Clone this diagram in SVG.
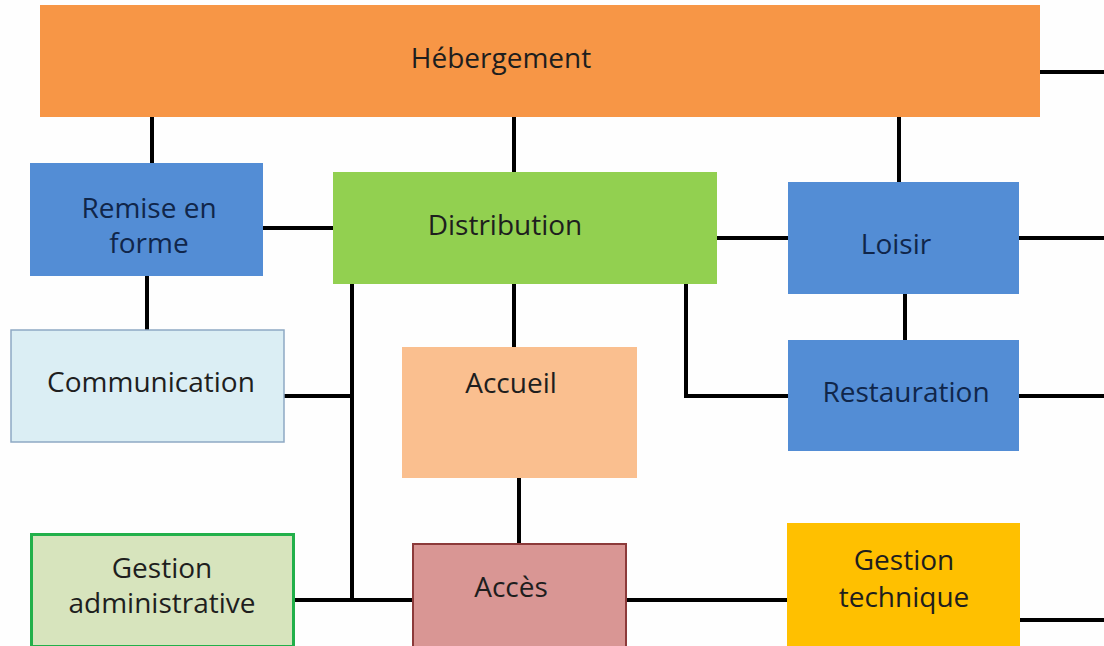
<svg xmlns="http://www.w3.org/2000/svg" width="1104" height="646" viewBox="0 0 1104 646">
  <style>
    .lbl { font-family: "Open Sans", "Liberation Sans", sans-serif; font-size: 28px; text-anchor: middle; fill: #1e1e1e; }
    .navy { fill: #10264a; }
    .wire { stroke: #000; stroke-width: 4; fill: none; }
  </style>
  <rect width="1104" height="646" fill="#fefefe"/>

  <!-- connectors -->
  <g id="connectors" class="wire">
    <path d="M152 117V163"/>
    <path d="M514 117V172"/>
    <path d="M899 117V182"/>
    <path d="M1040 72H1104"/>
    <path d="M263 228H333"/>
    <path d="M147 276V330"/>
    <path d="M717 238H788"/>
    <path d="M1019 238H1104"/>
    <path d="M905 294V340"/>
    <path d="M1019 396H1104"/>
    <path d="M686 284V396H788"/>
    <path d="M352 284V600"/>
    <path d="M284 396H352"/>
    <path d="M294 600H413"/>
    <path d="M514 284V347"/>
    <path d="M519 478V543"/>
    <path d="M626 600H787"/>
    <path d="M1020 620H1104"/>
  </g>

  <g id="hebergement">
    <rect x="40" y="5" width="1000" height="112" fill="#f79646"/>
    <text class="lbl" x="501" y="68" fill="#2a1a10">Hébergement</text>
  </g>

  <g id="remise-en-forme">
    <rect x="30" y="163" width="233" height="113" fill="#538dd5"/>
    <text class="lbl navy" x="149" y="218">Remise en</text>
    <text class="lbl navy" x="149" y="253">forme</text>
  </g>

  <g id="distribution">
    <rect x="333" y="172" width="384" height="112" fill="#92d050"/>
    <text class="lbl" x="505" y="235">Distribution</text>
  </g>

  <g id="loisir">
    <rect x="788" y="182" width="231" height="112" fill="#538dd5"/>
    <text class="lbl navy" x="896" y="254">Loisir</text>
  </g>

  <g id="restauration">
    <rect x="788" y="340" width="231" height="111" fill="#538dd5"/>
    <text class="lbl navy" x="906" y="402">Restauration</text>
  </g>

  <g id="communication">
    <rect x="11" y="330" width="273" height="112" fill="#dbeef4" stroke="#8ea9c4" stroke-width="1.5"/>
    <text class="lbl" x="151" y="392">Communication</text>
  </g>

  <g id="accueil">
    <rect x="402" y="347" width="235" height="131" fill="#fabf8f"/>
    <text class="lbl" x="511" y="393">Accueil</text>
  </g>

  <g id="gestion-administrative">
    <rect x="31.5" y="534.5" width="262" height="112" fill="#d7e4bd" stroke="#22b04a" stroke-width="3"/>
    <text class="lbl" x="162" y="578">Gestion</text>
    <text class="lbl" x="162" y="613">administrative</text>
  </g>

  <g id="acces">
    <rect x="413" y="544" width="213" height="104" fill="#d99694" stroke="#8c3a3a" stroke-width="2"/>
    <text class="lbl" x="511" y="597">Accès</text>
  </g>

  <g id="gestion-technique">
    <rect x="787" y="523" width="233" height="125" fill="#ffc000"/>
    <text class="lbl" x="904" y="570">Gestion</text>
    <text class="lbl" x="904" y="607">technique</text>
  </g>
</svg>
